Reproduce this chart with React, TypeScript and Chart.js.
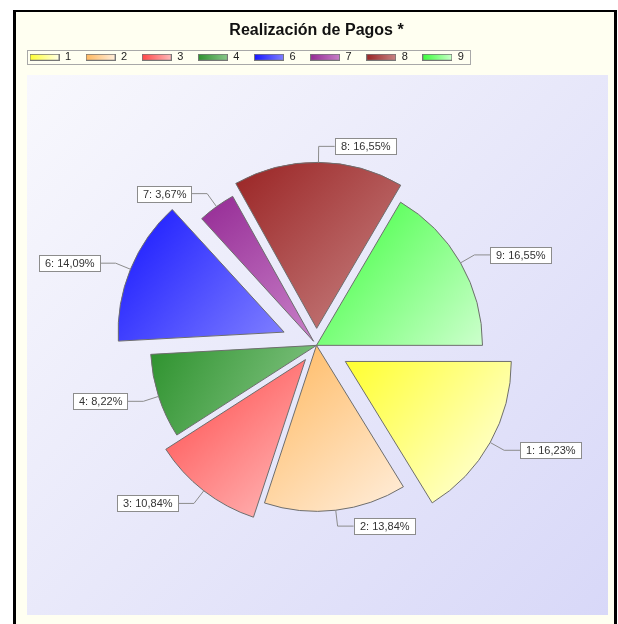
import React, { useEffect, useRef } from 'react';
import { Chart, registerables } from 'chart.js';

Chart.register(...registerables);

// ---- data ----
const TITLE = 'Realización de Pagos *';
const LABELS = ['1', '2', '3', '4', '6', '7', '8', '9'];
const VALUES = [16.23, 13.84, 10.84, 8.22, 14.09, 3.67, 16.55, 16.55];

// ---- styles ----
const EXPLODE = [33, 0, 18, 0, 35, 5, 17, 0];
const DARK = ['#ffff30', '#ffb85e', '#ff4646', '#2e922e', '#1616ff', '#952b95', '#9a2424', '#3aff3a'];
const LIGHT = ['#ffffe8', '#ffeedc', '#ffbcbc', '#8ac88a', '#8080ff', '#c880c8', '#c88484', '#ccffcc'];
const FONT = "'Liberation Sans', Arial, sans-serif";
const RADIUS = 166;

const fmt = (v: number) => v.toFixed(2).replace('.', ',');

function sliceGradient(c: any) {
  const chart = c.chart;
  const i = c.dataIndex;
  const area = chart.chartArea;
  if (!area || i === undefined) return DARK[i ?? 0];
  const cx = (area.left + area.right) / 2;
  const cy = (area.top + area.bottom) / 2;
  const total = VALUES.reduce((s, v) => s + v, 0);
  let cum = 0;
  for (let k = 0; k < i; k++) cum += VALUES[k];
  const a0 = (cum / total) * Math.PI * 2;
  const a1 = ((cum + VALUES[i]) / total) * Math.PI * 2;
  const mid = (a0 + a1) / 2;
  const ox = cx + Math.cos(mid) * EXPLODE[i];
  const oy = cy + Math.sin(mid) * EXPLODE[i];
  const pts: number[][] = [[ox, oy]];
  pts.push([ox + Math.cos(a0) * RADIUS, oy + Math.sin(a0) * RADIUS]);
  pts.push([ox + Math.cos(a1) * RADIUS, oy + Math.sin(a1) * RADIUS]);
  for (let k = 0; k <= 4; k++) {
    const a = (k * Math.PI) / 2;
    if (a > a0 && a < a1) pts.push([ox + Math.cos(a) * RADIUS, oy + Math.sin(a) * RADIUS]);
  }
  const xs = pts.map((p) => p[0]);
  const ys = pts.map((p) => p[1]);
  const g = chart.ctx.createLinearGradient(Math.min(...xs), Math.min(...ys), Math.max(...xs), Math.max(...ys));
  g.addColorStop(0, DARK[i]);
  g.addColorStop(1, LIGHT[i]);
  return g;
}

function makeSwatch(i: number) {
  const cv = document.createElement('canvas');
  cv.width = 30;
  cv.height = 7;
  const x = cv.getContext('2d')!;
  const g = x.createLinearGradient(0, 0, 30, 0);
  g.addColorStop(0, DARK[i]);
  g.addColorStop(1, LIGHT[i]);
  x.fillStyle = g;
  x.fillRect(0, 0, 30, 7);
  x.strokeStyle = '#777';
  x.lineWidth = 1;
  x.strokeRect(0.5, 0.5, 29, 6);
  return cv;
}

const backgroundPlugin = {
  id: 'bgFrame',
  beforeDraw(chart: any) {
    const ctx = chart.ctx;
    ctx.save();
    ctx.fillStyle = '#ffffff';
    ctx.fillRect(0, 0, chart.width, chart.height);
    ctx.fillStyle = '#fffff1';
    ctx.fillRect(13, 10, 604, chart.height);
    ctx.fillStyle = '#000';
    ctx.fillRect(13, 10, 604, 2);
    ctx.fillRect(13, 10, 3, chart.height);
    ctx.fillRect(614, 10, 3, chart.height);
    const g = ctx.createLinearGradient(27, 75, 608, 615);
    g.addColorStop(0, '#f8f8fd');
    g.addColorStop(0.5, '#e8e8fa');
    g.addColorStop(1, '#d8d8f8');
    ctx.fillStyle = g;
    ctx.fillRect(27, 75, 581, 540);
    ctx.restore();
  },
};

const explodePlugin = {
  id: 'explode',
  afterDatasetsUpdate(chart: any) {
    const meta = chart.getDatasetMeta(0);
    meta.data.forEach((arc: any, i: number) => {
      const mid = (arc.startAngle + arc.endAngle) / 2;
      arc.x += Math.cos(mid) * EXPLODE[i];
      arc.y += Math.sin(mid) * EXPLODE[i];
    });
  },
};

const labelPlugin = {
  id: 'sliceLabels',
  afterDatasetsDraw(chart: any) {
    const ctx = chart.ctx;
    const meta = chart.getDatasetMeta(0);
    ctx.save();
    ctx.font = `11px ${FONT}`;
    ctx.textBaseline = 'middle';
    ctx.textAlign = 'left';
    meta.data.forEach((arc: any, i: number) => {
      const mid = (arc.startAngle + arc.endAngle) / 2;
      const c = Math.cos(mid);
      const s = Math.sin(mid);
      const r = arc.outerRadius;
      const px = arc.x + c * r;
      const py = arc.y + s * r;
      const ex = px + c * 16;
      const ey = py + s * 16;
      const side = c >= 0 ? 1 : -1;
      const hx = ex + side * 16;
      const text = `${LABELS[i]}: ${fmt(VALUES[i])}%`;
      const w = Math.round(ctx.measureText(text).width + 11);
      const h = 16;
      const bx = Math.round(side > 0 ? hx : hx - w);
      const by = Math.round(ey - h / 2);
      ctx.strokeStyle = '#8c8c8c';
      ctx.lineWidth = 1;
      ctx.beginPath();
      ctx.moveTo(px, py);
      ctx.lineTo(ex, ey);
      ctx.lineTo(hx, ey);
      ctx.stroke();
      ctx.fillStyle = '#ffffff';
      ctx.fillRect(bx + 0.5, by + 0.5, w, h);
      ctx.strokeRect(bx + 0.5, by + 0.5, w, h);
      ctx.fillStyle = '#333';
      ctx.fillText(text, bx + 6, by + h / 2 + 1);
    });
    ctx.restore();
  },
};

const legendBoxPlugin = {
  id: 'legendBox',
  afterDraw(chart: any) {
    const lg = chart.legend;
    if (!lg || !lg.legendHitBoxes || !lg.legendHitBoxes.length) return;
    const hb = lg.legendHitBoxes;
    const first = hb[0];
    const last = hb[hb.length - 1];
    const x0 = Math.round(first.left - 3);
    const x1 = Math.round(last.left + last.width + 6);
    const y0 = Math.round(first.top - 2);
    const y1 = Math.round(first.top + first.height + 1);
    const ctx = chart.ctx;
    ctx.save();
    ctx.strokeStyle = '#a8a8a8';
    ctx.lineWidth = 1;
    ctx.strokeRect(x0 + 0.5, y0 + 0.5, x1 - x0, y1 - y0);
    ctx.restore();
  },
};

export default function App() {
  const ref = useRef<HTMLCanvasElement>(null);

  useEffect(() => {
    document.body.style.margin = '0';
    const swatches = LABELS.map((_, i) => makeSwatch(i));
    const chart = new Chart(ref.current!, {
      type: 'pie',
      data: {
        labels: LABELS,
        datasets: [
          {
            data: VALUES,
            backgroundColor: sliceGradient as any,
            borderColor: '#6e6e6e',
            borderWidth: 1,
            radius: RADIUS,
          } as any,
        ],
      },
      options: {
        animation: false,
        responsive: true,
        maintainAspectRatio: false,
        rotation: 90,
        events: [],
        layout: { padding: { top: 10, left: 15, right: 0, bottom: 6 } },
        plugins: {
          tooltip: { enabled: false },
          title: {
            display: true,
            text: TITLE,
            color: '#111',
            font: { family: FONT, size: 16, weight: 'bold' },
            padding: { top: 11, bottom: -3 },
          },
          legend: {
            display: true,
            position: 'top',
            align: 'start',
            labels: {
              usePointStyle: true,
              pointStyleWidth: 30,
              boxHeight: 7,
              padding: 14.5,
              color: '#222',
              font: { family: FONT, size: 11 },
              generateLabels: () =>
                LABELS.map((t, i) => ({
                  text: t,
                  pointStyle: swatches[i] as any,
                  fillStyle: DARK[i],
                  strokeStyle: '#777',
                  lineWidth: 0,
                  hidden: false,
                  index: i,
                  fontColor: '#222',
                })),
            },
          },
        },
      },
      plugins: [backgroundPlugin, explodePlugin, labelPlugin, legendBoxPlugin],
    });
    return () => chart.destroy();
  }, []);

  return (
    <div style={{ width: 618, height: 624, position: 'relative' }}>
      <canvas ref={ref} />
    </div>
  );
}
